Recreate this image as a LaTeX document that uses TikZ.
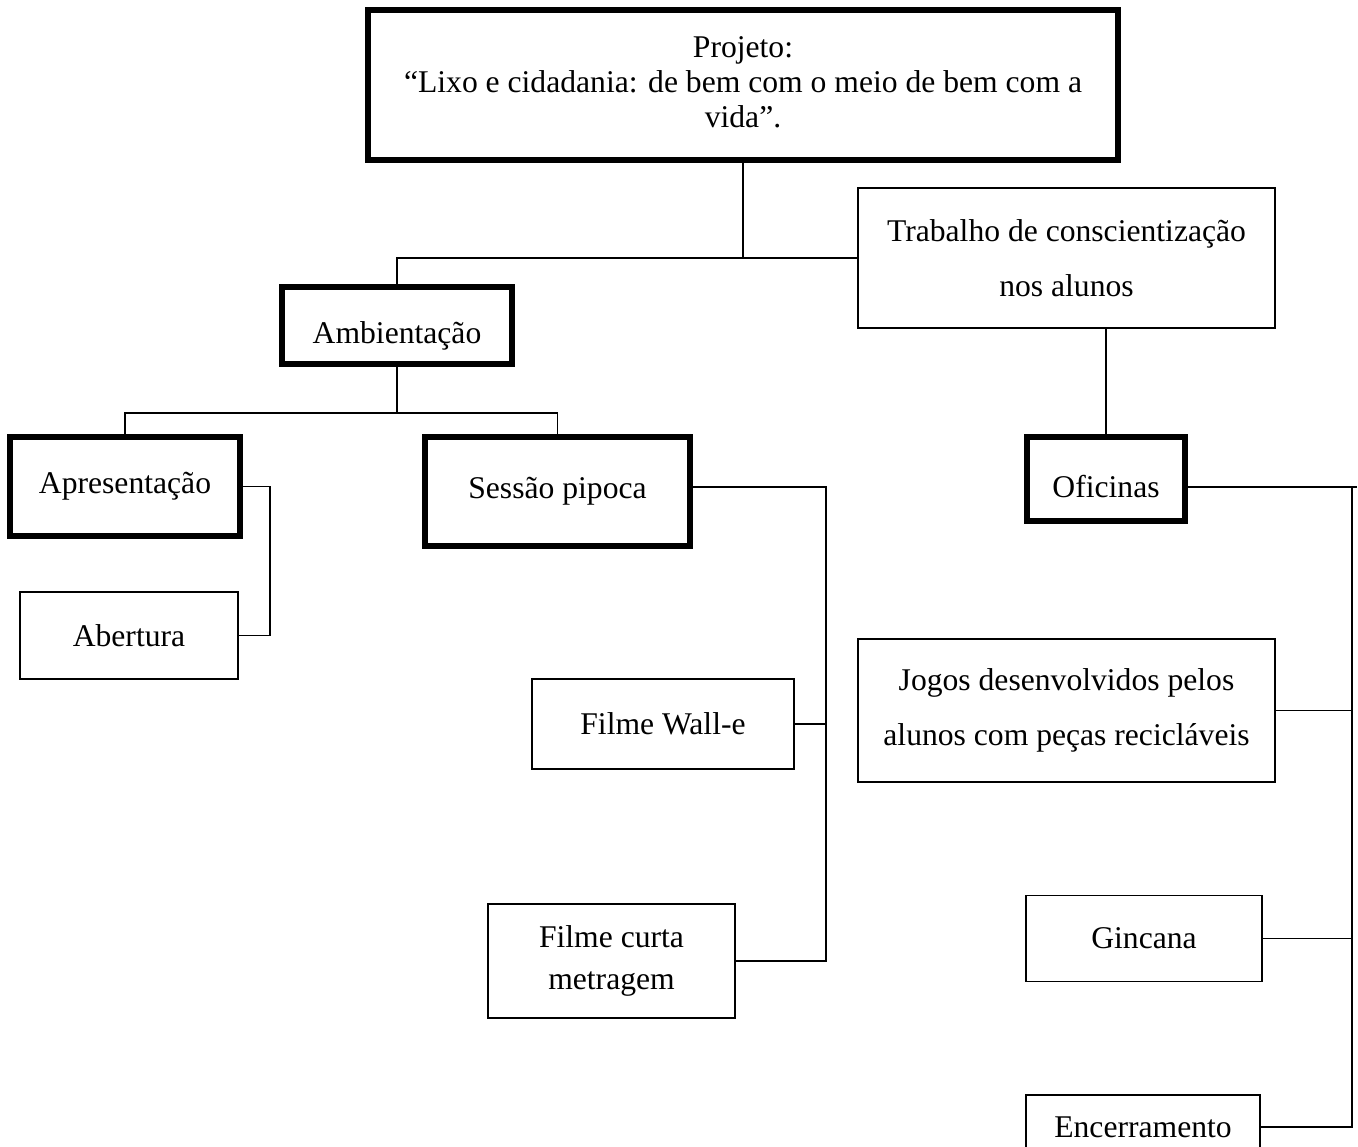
\documentclass[tikz,border=0pt]{standalone}
\usepackage{fontspec}
\setmainfont{Liberation Serif}
\usetikzlibrary{calc}

% lower a text inside its box without changing the box
\newcommand{\sinktext}[2]{\raisebox{-#1}[\height][\depth]{#2}}

\begin{document}
\begin{tikzpicture}[
    x=0.02cm, y=-0.02cm,
    every node/.style={font=\fontsize{18}{21}\selectfont, align=center, inner sep=0pt},
    boldbox/.style={rectangle, draw=black, line width=3.2pt},
    thinbox/.style={rectangle, draw=black, line width=1.1pt},
    link/.style={draw=black, line width=1.1pt},
    tall/.style={font=\fontsize{18}{31}\selectfont},
]
\useasboundingbox (0,0) rectangle (1358,1146);

% ============================================================ the project
\node[boldbox, font=\fontsize{18}{20}\selectfont, minimum width=15cm, minimum height=3cm] (proj) at (743,85)
    {\sinktext{-0.06cm}{Projeto:}\\ \sinktext{-0.06cm}{``Lixo e cidadania: de bem com o meio de bem com a}\\ \sinktext{-0.06cm}{vida''.}};

% ============================================================ first level
\node[thinbox, tall, minimum width=8.34cm, minimum height=2.8cm] (trab) at (1066.5,258)
    {Trabalho de conscientização\\ nos alunos};
\node[boldbox, minimum width=4.6cm, minimum height=1.54cm] (amb) at (397,325.5)
    {\sinktext{0.2cm}{Ambientação}};

% ============================================================ second level
\node[boldbox, minimum width=4.6cm, minimum height=1.98cm] (apres) at (125,486.5)
    {Apresentação};
\node[boldbox, minimum width=5.3cm, minimum height=2.18cm] (sess) at (557.5,491.5)
    {Sessão pipoca};
\node[boldbox, minimum width=3.16cm, minimum height=1.68cm] (ofic) at (1106,479)
    {\sinktext{0.16cm}{Oficinas}};

% ============================================================ the leaves
\node[thinbox, minimum width=4.36cm, minimum height=1.74cm] (abert) at (129,635.5)
    {Abertura};
\node[thinbox, minimum width=5.24cm, minimum height=1.8cm] (wall) at (663,724)
    {Filme Wall-e};
\node[thinbox, font=\fontsize{18}{24}\selectfont, minimum width=4.94cm, minimum height=2.28cm]
    (curta) at (611.5,961) {Filme curta\\ metragem};
\node[thinbox, tall, minimum width=8.34cm, minimum height=2.86cm] (jogos) at (1066.5,710.5)
    {Jogos desenvolvidos pelos\\ alunos com peças recicláveis};
\node[thinbox, minimum width=4.72cm, minimum height=1.72cm] (ginc) at (1144,938.5)
    {Gincana};
% only its top shows, the page ends below
\node[thinbox, minimum width=4.68cm, minimum height=1.28cm] (encer) at (1143,1127)
    {Encerramento};

% ============================================================ connectors
\coordinate (ambbus) at (400,413);
\coordinate (apresbus) at (270,0);
\coordinate (sessbus) at (826,0);
\coordinate (oficbus) at (1352,0);

\draw[link] (proj.south) -- (proj.south |- trab.west);
\draw[link] (amb.north) |- (trab.west);

\draw[link] (amb.south) -- (amb.south |- ambbus);
\draw[link] (apres.north) -- (apres.north |- ambbus) -- (sess.north |- ambbus) -- (sess.north);

\draw[link] (apres.east) -| (apresbus |- abert.east) -- (abert.east);

\draw[link] ([yshift=0.09cm]sess.east) -| (sessbus |- curta.east) -- (curta.east);
\draw[link] (wall.east) -- (wall.east -| sessbus);

\draw[link] (ofic.north) -- (ofic.north |- trab.south);
\draw[link] ([yshift=-0.16cm]ofic.east) -- ([xshift=0.1cm, yshift=-0.16cm]ofic.east -| oficbus);
\draw[link] ([yshift=-0.16cm]ofic.east -| oficbus) -- (oficbus |- encer.east) -- (encer.east);
\foreach \n in {jogos, ginc}{
    \draw[link] (\n.east) -- (\n.east -| oficbus);
}

\end{tikzpicture}
\end{document}
